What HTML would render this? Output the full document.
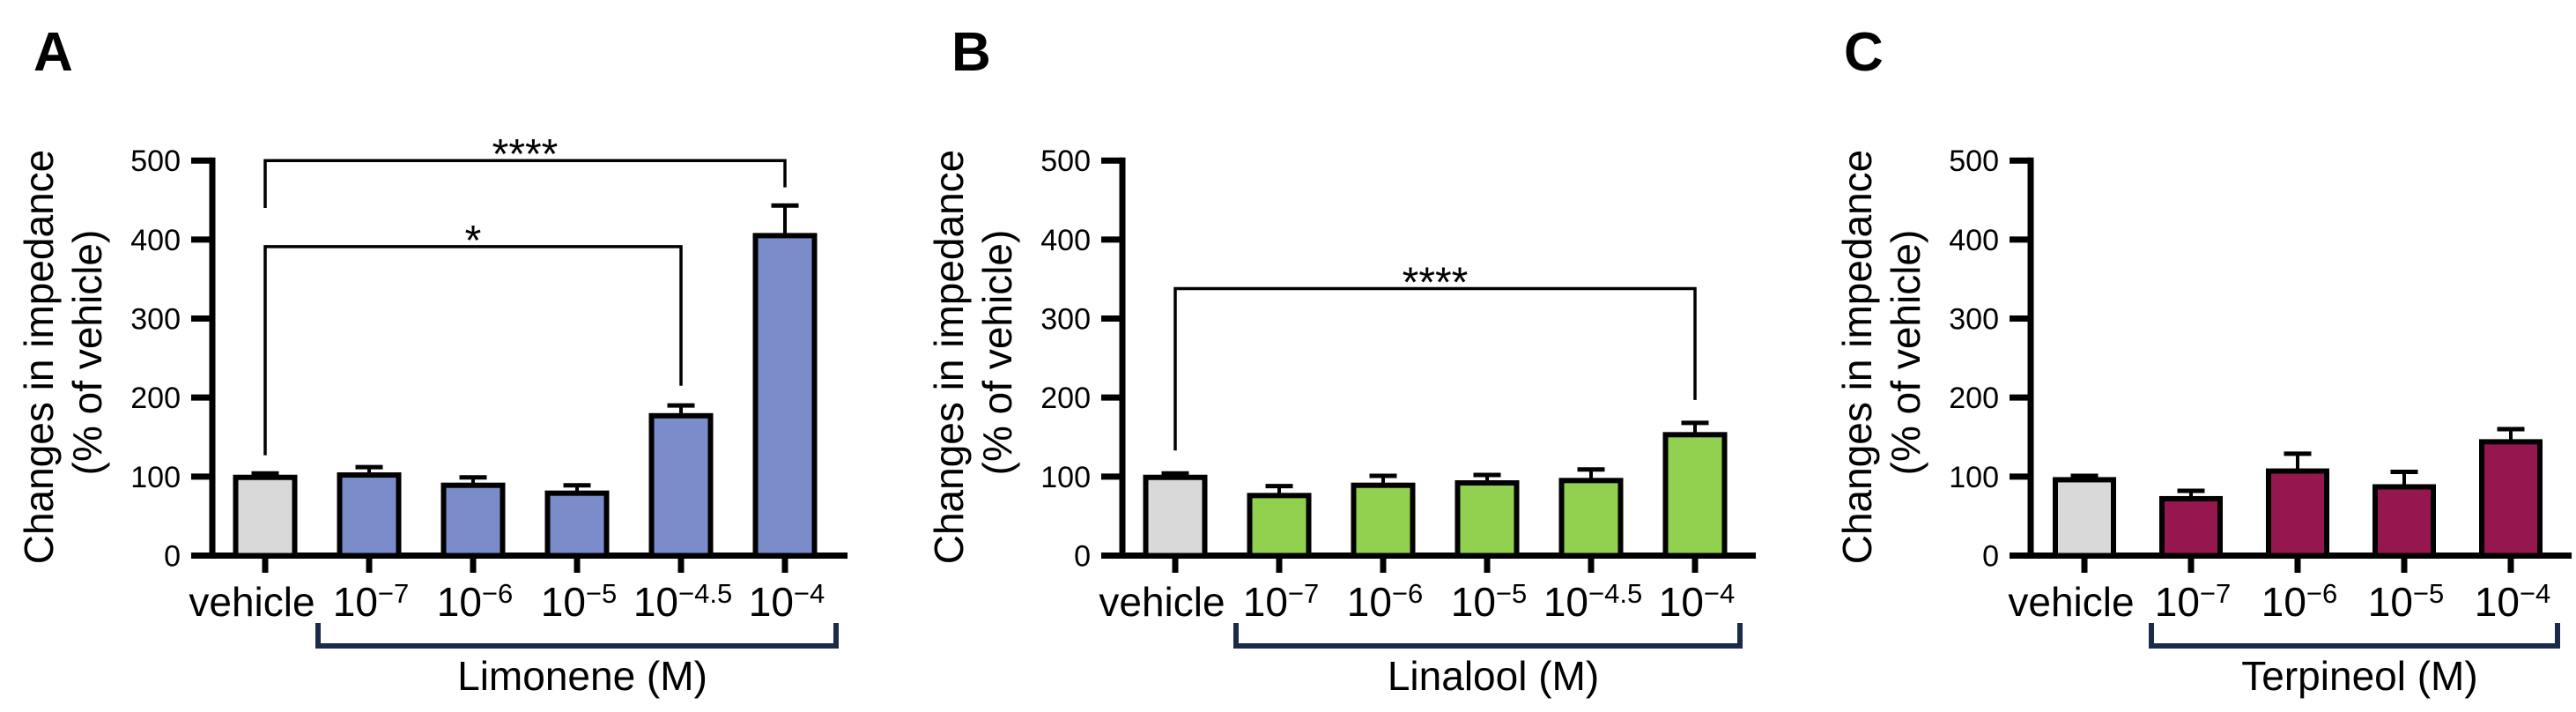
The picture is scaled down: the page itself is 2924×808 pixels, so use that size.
<!DOCTYPE html>
<html><head><meta charset="utf-8">
<style>
html,body{margin:0;padding:0;background:#fff;}
svg{display:block;font-family:"Liberation Sans",Arial,sans-serif;}
</style></head>
<body>
<svg id="fig" width="2924" height="808" viewBox="0 0 2924 808" xmlns="http://www.w3.org/2000/svg"></svg>
<script>
// ---- data ----
const yTicks = [0, 100, 200, 300, 400, 500];
const catsA = ["vehicle", "-7", "-6", "-5", "-4.5", "-4"];
const valsA = [99, 102, 89, 79, 177, 405];
const errA = [5, 10, 10, 10, 13, 38];
const catsB = ["vehicle", "-7", "-6", "-5", "-4.5", "-4"];
const valsB = [99, 76, 89, 92, 95, 153];
const errB = [5, 12, 12, 10, 14, 15];
const catsC = ["vehicle", "-7", "-6", "-5", "-4"];
const valsC = [96, 72, 107, 87, 144];
const errC = [5, 10, 22, 19, 16];
// significance: [fromIndex, toIndex, lineValue, leftDropValue, rightDropValue, label]
const sigA1 = [0, 5, 500, 440, 466, "****"];
const sigA2 = [0, 4, 391, 127, 215, "*"];
const sigB1 = [0, 5, 338, 133, 197, "****"];

const NS = "http://www.w3.org/2000/svg";
const svg = document.getElementById("fig");
function mk(tag, attrs, parent) {
  const e = document.createElementNS(NS, tag);
  for (const k in attrs) e.setAttribute(k, attrs[k]);
  (parent || svg).appendChild(e);
  return e;
}
const Y0 = 630.5, PXU = 0.8966;
function yScale(v) { return Y0 - v * PXU; }

function panel(o) {
  const g = mk("g", {});
  
  
  const xS = i => o.x0 + i * o.step;
  // panel letter
  const L = mk("text", {x: o.letterX, y: 80, "font-size": 62, "font-weight": "bold"}, g);
  L.textContent = o.letter;
  
  
  // y title
  const t1 = mk("text", {transform: `translate(${o.ax - 181},405) rotate(-90)`, "text-anchor": "middle", "font-size": 46}, g);
  t1.textContent = "Changes in impedance";
  
  
  const t2 = mk("text", {transform: `translate(${o.ax - 126},400) rotate(-90)`, "text-anchor": "middle", "font-size": 46}, g);
  t2.textContent = "(% of vehicle)";
  
  
  // y ticks
  yTicks.forEach(t => {
    const y = yScale(t);
    const tk = mk("line", {x1: o.ax - 24, x2: o.ax, y1: y, y2: y, stroke: "#000", "stroke-width": 7}, g);
    
    
    const tl = mk("text", {x: o.ax - 36, y: y + 12, "text-anchor": "end", "font-size": 34}, g);
    tl.textContent = t;
    
    
  });
  // axes
  const ya = mk("line", {x1: o.ax, x2: o.ax, y1: yScale(500) - 3.5, y2: Y0 + 3.5, stroke: "#000", "stroke-width": 7}, g);
  
  
  const xa = mk("line", {x1: o.ax - 24, x2: o.axEnd, y1: Y0, y2: Y0, stroke: "#000", "stroke-width": 7}, g);
  
  
  // bars
  o.vals.forEach((v, i) => {
    const cx = xS(i), top = yScale(v), cap = yScale(v + o.err[i]);
    const eb = mk("line", {x1: cx, x2: cx, y1: top, y2: cap, stroke: "#000", "stroke-width": 4}, g);
    
    
    const ec = mk("line", {x1: cx - 15.5, x2: cx + 15.5, y1: cap, y2: cap, stroke: "#000", "stroke-width": 5}, g);
    
    
    const r = mk("rect", {x: cx - o.bw / 2, y: top, width: o.bw, height: Y0 - top, fill: i === 0 ? "#d9d9d9" : o.color, stroke: "#000", "stroke-width": 6}, g);
    
    
    const xt = mk("line", {x1: cx, x2: cx, y1: Y0, y2: 650, stroke: "#000", "stroke-width": 7}, g);
    
    
    const lab = mk("text", {x: i === 0 ? cx - 15 : cx + 2, y: 699, "text-anchor": "middle", "font-size": 46}, g);
    
    
    if (i === 0) lab.textContent = "vehicle";
    else {
      const a = mk("tspan", {}, lab); a.textContent = "10";
      const b = mk("tspan", {dy: -15, "font-size": 31}, lab); b.textContent = o.cats[i].replace("-", "\u2212");
    }
  });
  // bracket
  const br = mk("path", {d: `M${o.brL} 707 V733 H${o.brR} V707`, fill: "none", stroke: "#1b2a4a", "stroke-width": 6}, g);
  
  
  const bt = mk("text", {x: (o.brL + o.brR) / 2 + 6, y: 783, "text-anchor": "middle", "font-size": 46}, g);
  bt.textContent = o.compound;
  
  
  // significance
  (o.sigs || []).forEach(s => {
    const xl = xS(s[0]), xr = xS(s[1]), yl = yScale(s[2]);
    const p = mk("path", {d: `M${xl} ${yScale(s[3])} V${yl} H${xr} V${yScale(s[4])}`, fill: "none", stroke: "#000", "stroke-width": 3.5}, g);
    
    
    const st = mk("text", {x: (xl + xr) / 2, y: yl + 9, "text-anchor": "middle", "font-size": 48}, g);
    st.textContent = s[5];
    
    
  });
}

panel({letter: "A", letterX: 38, ax: 241, axEnd: 962, x0: 301, step: 118, bw: 67, cats: catsA, vals: valsA, err: errA, color: "#7a8cc9", brL: 361, brR: 949, compound: "Limonene (M)", sigs: [sigA1, sigA2]});
panel({letter: "B", letterX: 1080, ax: 1274, axEnd: 1993, x0: 1334, step: 118, bw: 67, cats: catsB, vals: valsB, err: errB, color: "#92d050", brL: 1403, brR: 1975, compound: "Linalool (M)", sigs: [sigB1]});
panel({letter: "C", letterX: 2093, ax: 2305, axEnd: 2919, x0: 2366, step: 121, bw: 66, cats: catsC, vals: valsC, err: errC, color: "#96174f", brL: 2442, brR: 2903, compound: "Terpineol (M)", sigs: []});
</script>
</body></html>
